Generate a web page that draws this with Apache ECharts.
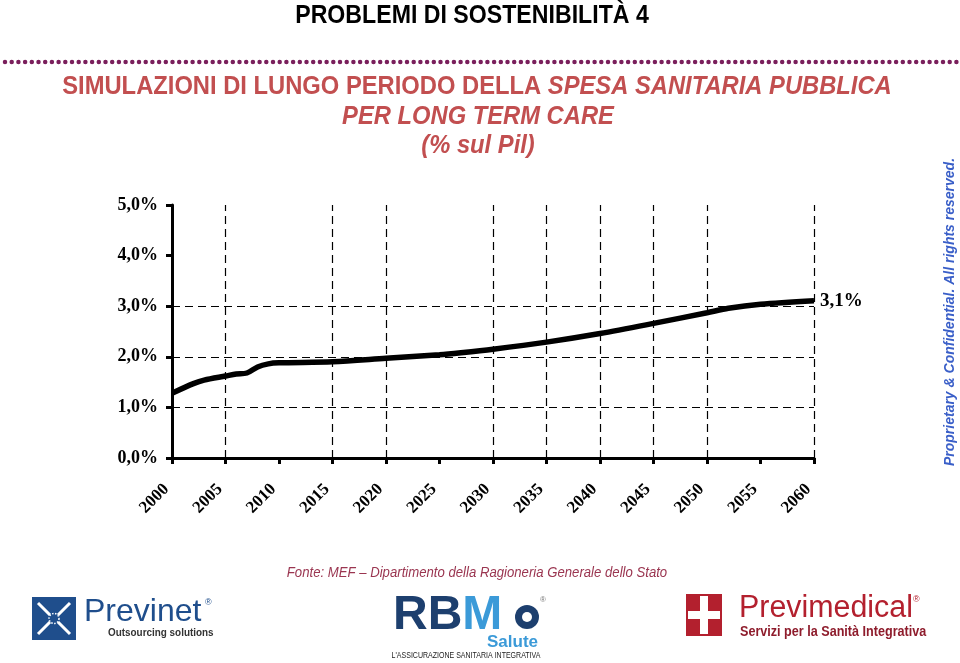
<!DOCTYPE html>
<html><head><meta charset="utf-8">
<script src="https://cdn.jsdelivr.net/npm/echarts@6/dist/echarts.min.js"></script>
<style>html,body{margin:0;padding:0;background:#fff}#c{width:960px;height:663px}</style>
</head><body><div id="c"></div><script>
// Data (% of GDP)
const years  = [2000, 2002, 2003, 2005, 2006, 2007, 2008, 2009, 2010, 2015, 2020, 2025, 2027, 2030, 2035, 2040, 2045, 2050, 2052, 2055, 2060];
const values = [1.28, 1.47, 1.54, 1.62, 1.66, 1.68, 1.80, 1.86, 1.88, 1.90, 1.97, 2.04, 2.08, 2.15, 2.29, 2.46, 2.66, 2.87, 2.96, 3.04, 3.11];
const xGridYears = [2005, 2015, 2020, 2030, 2035, 2040, 2045, 2050, 2060];
const yGridValues = [1, 2, 3];

const fmtPct = v => v.toFixed(1).replace('.', ',') + '%';
const serif = '"Liberation Serif", "Times New Roman", serif';
const sans = '"Liberation Sans", Arial, sans-serif';
const red = '#c24f50';

const chart = echarts.init(document.getElementById('c'), null, {renderer: 'canvas'});
const seriesData = years.map((y, i) => [y, values[i]]);

chart.setOption({
  backgroundColor: '#ffffff',
  animation: false,
  grid: {left: 172, right: 146, top: 205, bottom: 205, containLabel: false},
  xAxis: {
    type: 'value', min: 2000, max: 2060, interval: 5,
    axisLine: {show: true, onZero: false, lineStyle: {color: '#000', width: 3}},
    axisTick: {show: true, length: 6, lineStyle: {color: '#000', width: 3}},
    splitLine: {show: false},
    axisLabel: {
      rotate: 45, margin: 23, color: '#000', fontFamily: serif, fontWeight: 'bold', fontSize: 17,
      padding: [0, 8, 0, 0],
      formatter: v => String(v)
    }
  },
  yAxis: {
    type: 'value', min: 0, max: 5, interval: 1,
    axisLine: {show: true, lineStyle: {color: '#000', width: 3}},
    axisTick: {show: true, length: 6, lineStyle: {color: '#000', width: 3}},
    splitLine: {show: false},
    axisLabel: {margin: 14, color: '#000', fontFamily: serif, fontWeight: 'bold', fontSize: 18, formatter: v => fmtPct(v)}
  },
  series: [{
    type: 'line', data: seriesData, smooth: 0.3, symbol: 'none',
    lineStyle: {color: '#000', width: 5.5},
    z: 5,
    endLabel: {show: true, formatter: p => fmtPct(p.value[1]), color: '#000', fontFamily: serif, fontWeight: 'bold', fontSize: 19, distance: 6},
    markLine: {
      silent: true, symbol: ['none', 'none'], label: {show: false},
      lineStyle: {color: '#000', width: 1.2, type: [8, 5]},
      data: [...xGridYears.map(y => ({xAxis: y})), ...yGridValues.map(v => ({yAxis: v}))]
    }
  }],
  graphic: [
    {type: 'text', x: 472, y: 16, scaleX: 0.89, style: {text: 'PROBLEMI DI SOSTENIBILITÀ 4', fill: '#000', font: 'bold 26px ' + sans, textAlign: 'center', textVerticalAlign: 'middle'}},
    {type: 'line', shape: {x1: 5, y1: 62, x2: 958, y2: 62}, style: {stroke: '#7a1f5c', lineWidth: 4.5, lineCap: 'round', lineDash: [0, 6.7]}},
    {type: 'text', x: 477, y: 87, scaleX: 0.95, style: {
      text: '{n|SIMULAZIONI DI LUNGO PERIODO DELLA }{i|SPESA SANITARIA PUBBLICA}',
      textAlign: 'center', textVerticalAlign: 'middle',
      rich: {n: {font: 'bold 25px ' + sans, fill: red}, i: {font: 'italic bold 25px ' + sans, fill: red}}
    }},
    {type: 'text', x: 478, y: 117, scaleX: 0.95, style: {text: 'PER LONG TERM CARE', fill: red, font: 'italic bold 25px ' + sans, textAlign: 'center', textVerticalAlign: 'middle'}},
    {type: 'text', x: 478, y: 146, scaleX: 0.95, style: {text: '(% sul Pil)', fill: red, font: 'italic bold 25px ' + sans, textAlign: 'center', textVerticalAlign: 'middle'}},
    {type: 'text', x: 950, y: 312, rotation: Math.PI / 2, style: {text: 'Proprietary & Confidential. All rights reserved.', fill: '#3a5fc8', font: 'italic bold 14px ' + sans, textAlign: 'center', textVerticalAlign: 'middle'}},
    {type: 'text', x: 477, y: 573, scaleX: 0.94, style: {text: 'Fonte: MEF – Dipartimento della Ragioneria Generale dello Stato', fill: '#9a3550', font: 'italic 14px ' + sans, textAlign: 'center', textVerticalAlign: 'middle'}},
    // Previnet logo
    {type: 'rect', shape: {x: 32, y: 597, width: 44, height: 43}, style: {fill: '#1f4e8c'}},
    {type: 'polyline', shape: {points: [[38,603],[50,615]]}, style: {stroke: '#fff', lineWidth: 3}},
    {type: 'polyline', shape: {points: [[70,603],[58,615]]}, style: {stroke: '#fff', lineWidth: 3}},
    {type: 'polyline', shape: {points: [[38,634],[50,622]]}, style: {stroke: '#fff', lineWidth: 3}},
    {type: 'polyline', shape: {points: [[70,634],[58,622]]}, style: {stroke: '#fff', lineWidth: 3}},
    {type: 'circle', shape: {cx: 54, cy: 618.5, r: 5}, style: {fill: 'none', stroke: '#fff', lineWidth: 1.5, lineDash: [1.5, 1.5]}},
    {type: 'text', x: 84, y: 612, style: {text: 'Previnet', fill: '#1f4e8c', font: '32px ' + sans, textVerticalAlign: 'middle'}},
    {type: 'text', x: 205, y: 603, style: {text: '®', fill: '#1f4e8c', font: '9px ' + sans, textVerticalAlign: 'middle'}},
    {type: 'text', x: 108, y: 633, scaleX: 0.9, style: {text: 'Outsourcing solutions', fill: '#333', font: 'bold 11px ' + sans, textVerticalAlign: 'middle'}},
    // RBM Salute logo
    {type: 'text', x: 393, y: 616, style: {text: '{a|RB}{b|M}', textVerticalAlign: 'middle', rich: {a: {font: 'bold 48px ' + sans, fill: '#1d3f6e'}, b: {font: 'bold 48px ' + sans, fill: '#3b9ad8'}}}},
    {type: 'circle', shape: {cx: 527, cy: 617, r: 12}, style: {fill: '#1d3f6e'}},
    {type: 'circle', shape: {cx: 527, cy: 617, r: 5}, style: {fill: '#fff'}},
    {type: 'text', x: 540, y: 600, style: {text: '®', fill: '#777', font: '8px ' + sans, textVerticalAlign: 'middle'}},
    {type: 'text', x: 538, y: 642, style: {text: 'Salute', fill: '#3b9ad8', font: 'bold 17px ' + sans, textAlign: 'right', textVerticalAlign: 'middle'}},
    {type: 'text', x: 466, y: 656, scaleX: 0.78, style: {text: "L'ASSICURAZIONE SANITARIA INTEGRATIVA", fill: '#222', font: '9px ' + sans, textAlign: 'center', textVerticalAlign: 'middle'}},
    // Previmedical logo
    {type: 'rect', shape: {x: 686, y: 594, width: 36, height: 42}, style: {fill: '#b3202e'}},
    {type: 'rect', shape: {x: 700, y: 596, width: 8, height: 38}, style: {fill: '#fff'}},
    {type: 'rect', shape: {x: 688, y: 611, width: 32, height: 8}, style: {fill: '#fff'}},
    {type: 'text', x: 739, y: 608, scaleX: 0.98, style: {text: 'Previmedical', fill: '#b3202e', font: '31px ' + sans, textVerticalAlign: 'middle'}},
    {type: 'text', x: 913, y: 600, style: {text: '®', fill: '#b3202e', font: '9px ' + sans, textVerticalAlign: 'middle'}},
    {type: 'text', x: 740, y: 632, scaleX: 0.9, style: {text: 'Servizi per la Sanità Integrativa', fill: '#8e1c2c', font: 'bold 14px ' + sans, textVerticalAlign: 'middle'}}
  ]
});
</script></body></html>
